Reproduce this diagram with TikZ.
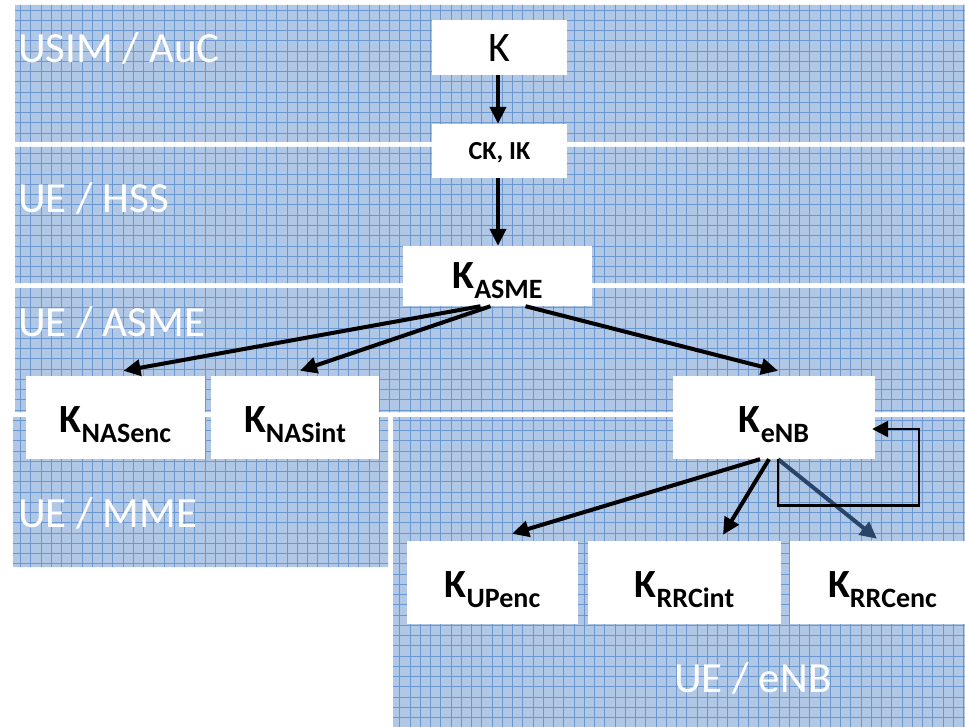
\documentclass[tikz,border=0pt]{standalone}
\usepackage{fontspec}
\setmainfont{Carlito}
\usetikzlibrary{arrows.meta}
\definecolor{bandfill}{RGB}{176,199,229}
\definecolor{gridline}{RGB}{108,152,210}
\definecolor{navyarrow}{RGB}{40,68,105}
% key name: bold K with a lowered bold index
\newcommand{\keyname}[1]{{\fontsize{40}{40}\selectfont\bfseries K}\raisebox{-10.5pt}{\fontsize{28}{28}\selectfont\bfseries #1}}

\begin{document}
\begin{tikzpicture}[x=1pt,y=-1pt,
  keybox/.style={fill=white, inner sep=0pt, text height=29pt, text depth=0pt, minimum height=83pt},
  zonelabel/.style={anchor=base west, inner sep=0pt, text=white, font=\fontsize{43}{43}\selectfont},
  derive/.style={line width=4pt, -{Triangle[length=17pt,width=16pt]}},
  loopline/.style={line width=2.6pt, -{Triangle[length=16pt,width=16pt]}}
]
\clip (0,0) rectangle (965,727);
\fill[white] (0,0) rectangle (965,727);

% zone bands with grid paper texture
\begin{scope}
  \clip (15,5) rectangle (965,142)
        (15,147) rectangle (965,283)
        (15,288) rectangle (965,412)
        (13,417) rectangle (388,567)
        (393,417) rectangle (965,727);
  \fill[bandfill] (0,0) rectangle (965,727);
  \draw[gridline, line width=1pt, step=10.25pt] (0,0) grid (965,727);
\end{scope}

% zone names
\node[zonelabel] (zusim) at (18,63) {USIM / AuC};
\node[zonelabel] (zhss) at (18,213) {UE / HSS};
\node[zonelabel] (zasme) at (18,336) {UE / ASME};
\node[zonelabel] (zmme) at (18,527) {UE / MME};
\node[zonelabel] (zenb) at (674,692) {UE / eNB};

% key boxes
\node[fill=white, inner sep=0pt, minimum width=135pt, minimum height=55pt,
      text height=29pt, text depth=0pt, font=\fontsize{42}{42}\selectfont] (k) at (499.5,47.5) {K};
\node[fill=white, inner sep=0pt, minimum width=135pt, minimum height=54pt,
      text height=18pt, text depth=0pt, font=\fontsize{26}{26}\selectfont\bfseries] (ckik) at (499.5,151) {CK, IK};
\node[keybox, minimum width=189pt, minimum height=60pt, text height=24pt] (kasme) at (497.5,276) {\keyname{ASME}};
\node[keybox, minimum width=179pt] (knasenc) at (115.5,417.5) {\keyname{NASenc}};
\node[keybox, minimum width=168pt] (knasint) at (295,417.5) {\keyname{NASint}};
\node[keybox, minimum width=202pt] (kenb) at (774,417.5) {\keyname{eNB}};
\node[keybox, minimum width=171pt] (kupenc) at (492.5,582.5) {\keyname{UPenc}};
\node[keybox, minimum width=193pt] (krrcint) at (684.5,582.5) {\keyname{RRCint}};
\node[keybox, minimum width=185pt] (krrcenc) at (882.5,582.5) {\keyname{RRCenc}};

% derivation arrows
\draw[derive] ([xshift=-1.5pt]k.south) -- ([xshift=-1.5pt]ckik.north);
\draw[derive] ([xshift=-1.5pt]ckik.south) -- ([xshift=-1.5pt]ckik.south |- kasme.north);
\draw[derive] ([xshift=-17pt]kasme.south) -- ([xshift=8pt,yshift=5pt]knasenc.north);
\draw[derive] ([xshift=-7pt]kasme.south) -- ([xshift=5pt,yshift=5pt]knasint.north);
\draw[derive] ([xshift=28pt]kasme.south) -- ([xshift=4pt,yshift=5pt]kenb.north);
\draw[derive] ([xshift=-14pt]kenb.south) -- ([xshift=19.5pt,yshift=7pt]kupenc.north);
\draw[derive] ([xshift=-5pt]kenb.south) -- ([xshift=38.5pt,yshift=6pt]krrcint.north);
\draw[derive, navyarrow] ([xshift=4pt]kenb.south) -- ([xshift=-5.5pt,yshift=2pt]krrcenc.north);

% K_eNB refresh loop
\draw[loopline] ([xshift=4pt]kenb.south) -- ++(0,46) -- ++(141,0) |- ([xshift=-3pt,yshift=-11.5pt]kenb.east);
\end{tikzpicture}
\end{document}
